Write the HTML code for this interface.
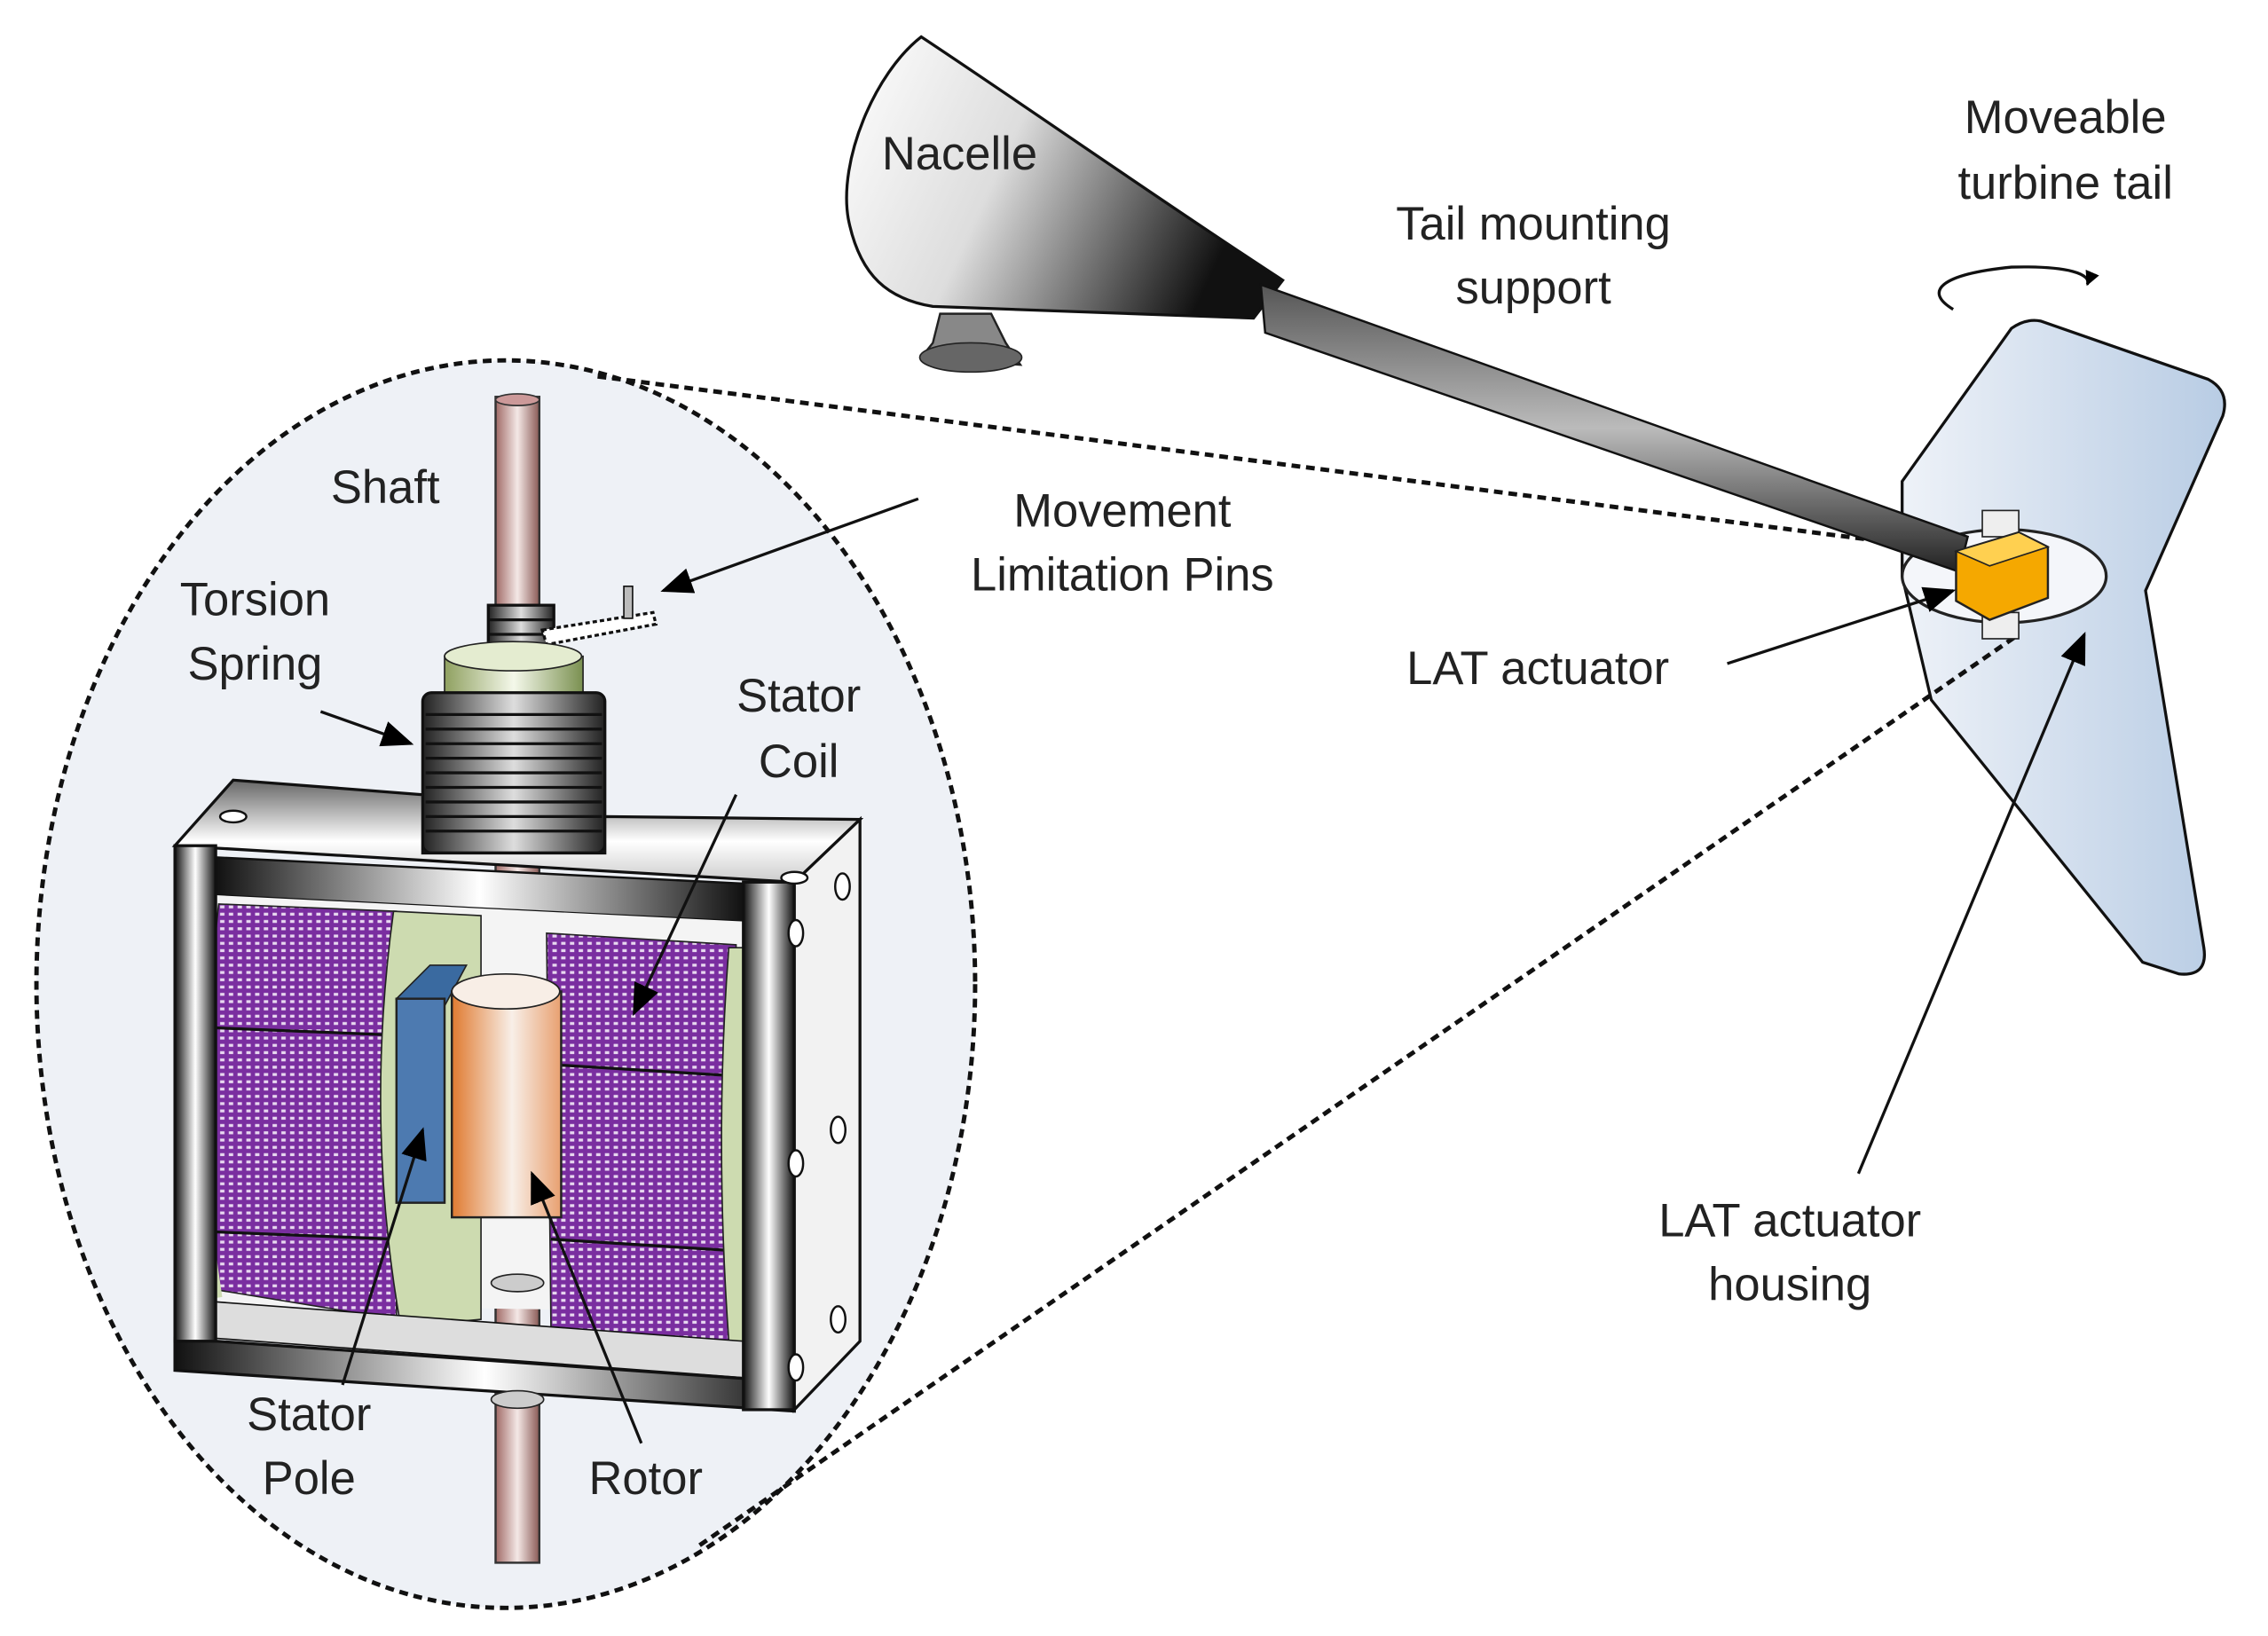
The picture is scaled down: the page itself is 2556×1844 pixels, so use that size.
<!DOCTYPE html>
<html><head><meta charset="utf-8"><style>
html,body{margin:0;padding:0;background:#fff;}
svg{display:block;}
text{font-family:"Liberation Sans",sans-serif;font-size:32px;fill:#222;}
</style></head><body>
<svg width="2556" height="1844" viewBox="0 0 1556 1122" xmlns="http://www.w3.org/2000/svg">
<defs>
<linearGradient id="nac" x1="0" y1="0" x2="1" y2="0.3">
<stop offset="0" stop-color="#fff"/><stop offset="0.45" stop-color="#ddd"/><stop offset="1" stop-color="#111"/></linearGradient>
<linearGradient id="boom" x1="0" y1="0" x2="0" y2="1">
<stop offset="0" stop-color="#555"/><stop offset="0.5" stop-color="#bbb"/><stop offset="1" stop-color="#222"/></linearGradient>
<linearGradient id="fin" x1="0" y1="0" x2="1" y2="0">
<stop offset="0" stop-color="#eef2f8"/><stop offset="1" stop-color="#b8cce4"/></linearGradient>
<linearGradient id="metal" x1="0" y1="0" x2="1" y2="0">
<stop offset="0" stop-color="#111"/><stop offset="0.5" stop-color="#fff"/><stop offset="1" stop-color="#111"/></linearGradient>
<linearGradient id="metalv" x1="0" y1="0" x2="0" y2="1">
<stop offset="0" stop-color="#666"/><stop offset="0.6" stop-color="#fff"/><stop offset="1" stop-color="#ccc"/></linearGradient>
<linearGradient id="shaft" x1="0" y1="0" x2="1" y2="0">
<stop offset="0" stop-color="#a06a66"/><stop offset="0.5" stop-color="#f4e8e6"/><stop offset="1" stop-color="#8a5a56"/></linearGradient>
<linearGradient id="rotor" x1="0" y1="0" x2="1" y2="0">
<stop offset="0" stop-color="#e07a30"/><stop offset="0.55" stop-color="#f8efe8"/><stop offset="1" stop-color="#e8a070"/></linearGradient>
<linearGradient id="green" x1="0" y1="0" x2="1" y2="0">
<stop offset="0" stop-color="#8fa060"/><stop offset="0.5" stop-color="#f4f8ea"/><stop offset="1" stop-color="#7a9050"/></linearGradient>
<linearGradient id="spring" x1="0" y1="0" x2="1" y2="0">
<stop offset="0" stop-color="#222"/><stop offset="0.5" stop-color="#ddd"/><stop offset="1" stop-color="#222"/></linearGradient>
<pattern id="dots" width="6" height="5" patternUnits="userSpaceOnUse">
<rect width="6" height="5" fill="#7a2ea0"/><rect x="1" y="1" width="3" height="2" fill="#e8d8f0"/></pattern>
<marker id="ah" markerWidth="10" markerHeight="10" refX="9" refY="5" orient="auto" markerUnits="userSpaceOnUse" viewBox="0 0 10 10">
<path d="M0,0 L10,5 L0,10 z" fill="#000"/></marker>
<marker id="ahb" markerWidth="22" markerHeight="22" refX="20" refY="11" orient="auto" markerUnits="userSpaceOnUse" viewBox="0 0 22 22">
<path d="M0,2 L22,11 L0,20 z" fill="#000"/></marker>
</defs>

<!-- ellipse -->
<ellipse cx="347" cy="675" rx="322" ry="428" fill="#eef1f6" stroke="#111" stroke-width="3" stroke-dasharray="6,4"/>

<!-- nacelle -->
<path d="M632,25 C600,50 575,110 582,150 C590,190 610,205 640,210 L860,218 L880,192 C800,140 700,70 632,25 Z" fill="url(#nac)" stroke="#111" stroke-width="2"/>
<path d="M645,215 L640,235 L632,245 L700,250 L690,235 L680,215 Z" fill="#888" stroke="#222" stroke-width="1.5"/>
<ellipse cx="666" cy="245" rx="35" ry="10" fill="#666" stroke="#222"/>
<!-- tail fin -->
<path d="M1305,330 L1380,225 Q1390,218 1400,220 L1515,260 Q1530,268 1525,285 L1472,405 L1512,650 Q1515,670 1495,668 L1470,660 L1325,480 L1305,395 Z" fill="url(#fin)" stroke="#111" stroke-width="2"/>
<ellipse cx="1375" cy="395" rx="70" ry="32" fill="#f4f6fa" stroke="#222" stroke-width="2"/>
<!-- dashed connectors -->
<line x1="410" y1="258" x2="1345" y2="378" stroke="#111" stroke-width="3" stroke-dasharray="6,4"/>
<line x1="480" y1="1060" x2="1385" y2="435" stroke="#111" stroke-width="3" stroke-dasharray="6,4"/>
<!-- boom -->
<path d="M865,195 L1350,368 L1344,392 L868,228 Z" fill="url(#boom)" stroke="#111" stroke-width="1.5"/>
<!-- actuator -->
<rect x="1360" y="350" width="25" height="18" fill="#eee" stroke="#222"/>
<rect x="1360" y="420" width="25" height="18" fill="#eee" stroke="#222"/>
<path d="M1342,378 L1385,365 L1405,375 L1405,410 L1365,425 L1342,412 Z" fill="#f5a800" stroke="#222" stroke-width="1.5"/>
<path d="M1342,378 L1385,365 L1405,375 L1365,388 Z" fill="#ffd050" stroke="#222"/>
<!-- rotation arrow -->
<path d="M1340,212 C1320,200 1330,188 1380,183 C1420,182 1435,188 1432,195" fill="none" stroke="#111" stroke-width="2" marker-end="url(#ah)"/>

<!-- shaft -->
<rect x="340" y="272" width="30" height="800" fill="url(#shaft)" stroke="#333" stroke-width="1.5"/>
<ellipse cx="355" cy="274" rx="15" ry="4" fill="#c99" stroke="#333"/>
<g stroke="#111" stroke-width="2">
<rect x="335" y="415" width="45" height="40" fill="url(#spring)"/>
<line x1="335" y1="425" x2="380" y2="425"/><line x1="335" y1="435" x2="380" y2="435"/><line x1="335" y1="445" x2="380" y2="445"/>
</g>
<path d="M372,432 L448,420 L450,428 L375,442 Z" fill="#fff" stroke="#111" stroke-width="2" stroke-dasharray="3,2"/>
<rect x="428" y="402" width="6" height="22" fill="#bbb" stroke="#111"/>
<rect x="305" y="450" width="95" height="40" fill="url(#green)" stroke="#222"/>
<ellipse cx="352" cy="450" rx="47" ry="10" fill="#e4ecd0" stroke="#222"/>
<rect x="290" y="475" width="125" height="110" rx="6" fill="url(#spring)" stroke="#111" stroke-width="2"/>
<g stroke="#111" stroke-width="2" fill="none">
<path d="M292,490 H413 M292,500 H413 M292,510 H413 M292,520 H413 M292,530 H413 M292,540 H413 M292,550 H413 M292,560 H413 M292,570 H413"/>
</g>
<!-- frame top plate -->
<path d="M120,580 L160,535 L290,545 L290,585 L415,585 L415,560 L590,562 L545,605 Z" fill="url(#metalv)" stroke="#111" stroke-width="2"/>
<path d="M148,588 L510,606 L510,632 L148,614 Z" fill="url(#metal)" stroke="#111" stroke-width="1.5"/>
<path d="M148,614 L510,632 L510,900 L148,895 Z" fill="#f4f4f4"/>
<!-- left coil -->
<path d="M150,620 L272,625 L272,905 L150,885 Q135,760 150,620 Z" fill="url(#dots)" stroke="#222"/>
<line x1="148" y1="705" x2="272" y2="710" stroke="#111" stroke-width="2"/>
<line x1="148" y1="845" x2="272" y2="850" stroke="#111" stroke-width="2"/>
<path d="M270,625 L330,628 L330,905 L275,910 Q250,770 270,625 Z" fill="#cddbb0" stroke="#222"/>
<path d="M138,630 Q130,760 150,890" fill="none" stroke="#cddbb0" stroke-width="5"/>
<!-- right coil -->
<path d="M375,640 L505,648 L505,922 L378,910 Z" fill="url(#dots)" stroke="#222"/>
<line x1="375" y1="730" x2="505" y2="738" stroke="#111" stroke-width="2"/>
<line x1="378" y1="850" x2="505" y2="858" stroke="#111" stroke-width="2"/>
<path d="M500,650 L515,650 L515,920 L500,920 Q490,780 500,650 Z" fill="#cddbb0" stroke="#222"/>
<!-- pole -->
<path d="M272,685 L295,662 L320,662 L305,690 Z" fill="#3a6aa0" stroke="#222"/>
<rect x="272" y="685" width="33" height="140" fill="#4d7ab0" stroke="#222" stroke-width="1.5"/>
<!-- rotor -->
<rect x="310" y="680" width="75" height="155" fill="url(#rotor)" stroke="#222" stroke-width="1.5"/>
<ellipse cx="347" cy="680" rx="37" ry="12" fill="#f8eee6" stroke="#222"/>
<ellipse cx="355" cy="880" rx="18" ry="6" fill="#ccc" stroke="#222"/>
<!-- bottom bar -->
<path d="M148,893 L510,920 L510,945 L148,918 Z" fill="#ddd" stroke="#111"/>
<path d="M120,918 L545,948 L545,968 L120,940 Z" fill="url(#metal)" stroke="#111" stroke-width="2"/>
<rect x="120" y="580" width="28" height="340" fill="url(#metal)" stroke="#111" stroke-width="2"/>
<rect x="510" y="605" width="35" height="362" fill="url(#metal)" stroke="#111" stroke-width="2"/>
<path d="M545,605 L590,562 L590,920 L545,967 Z" fill="#f2f2f2" stroke="#111" stroke-width="2"/>
<g fill="#fff" stroke="#111" stroke-width="1.5">
<ellipse cx="546" cy="640" rx="5" ry="9"/><ellipse cx="578" cy="608" rx="5" ry="9"/>
<ellipse cx="546" cy="798" rx="5" ry="9"/><ellipse cx="575" cy="775" rx="5" ry="9"/>
<ellipse cx="546" cy="938" rx="5" ry="9"/><ellipse cx="575" cy="905" rx="5" ry="9"/>
<ellipse cx="160" cy="560" rx="9" ry="4"/><ellipse cx="545" cy="602" rx="9" ry="4"/>
</g>
<ellipse cx="355" cy="960" rx="18" ry="6" fill="#ccc" stroke="#222"/>

<g stroke="#111" stroke-width="2" fill="none" marker-end="url(#ahb)">
<line x1="630" y1="342" x2="455" y2="405"/>
<line x1="220" y1="488" x2="282" y2="510"/>
<line x1="505" y1="545" x2="435" y2="695"/>
<line x1="235" y1="950" x2="290" y2="775"/>
<line x1="440" y1="990" x2="365" y2="805"/>
<line x1="1185" y1="455" x2="1340" y2="405"/>
<line x1="1275" y1="805" x2="1430" y2="435"/>
</g>

<text x="605" y="116">Nacelle</text>
<text x="1052" y="164" text-anchor="middle">Tail mounting</text>
<text x="1052" y="208" text-anchor="middle">support</text>
<text x="1417" y="91" text-anchor="middle">Moveable</text>
<text x="1417" y="136" text-anchor="middle">turbine tail</text>
<text x="227" y="345">Shaft</text>
<text x="770" y="361" text-anchor="middle">Movement</text>
<text x="770" y="405" text-anchor="middle">Limitation Pins</text>
<text x="175" y="422" text-anchor="middle">Torsion</text>
<text x="175" y="466" text-anchor="middle">Spring</text>
<text x="548" y="488" text-anchor="middle">Stator</text>
<text x="548" y="533" text-anchor="middle">Coil</text>
<text x="965" y="469">LAT actuator</text>
<text x="1228" y="848" text-anchor="middle">LAT actuator</text>
<text x="1228" y="892" text-anchor="middle">housing</text>
<text x="212" y="981" text-anchor="middle">Stator</text>
<text x="212" y="1025" text-anchor="middle">Pole</text>
<text x="443" y="1025" text-anchor="middle">Rotor</text>
</svg>
</body></html>
